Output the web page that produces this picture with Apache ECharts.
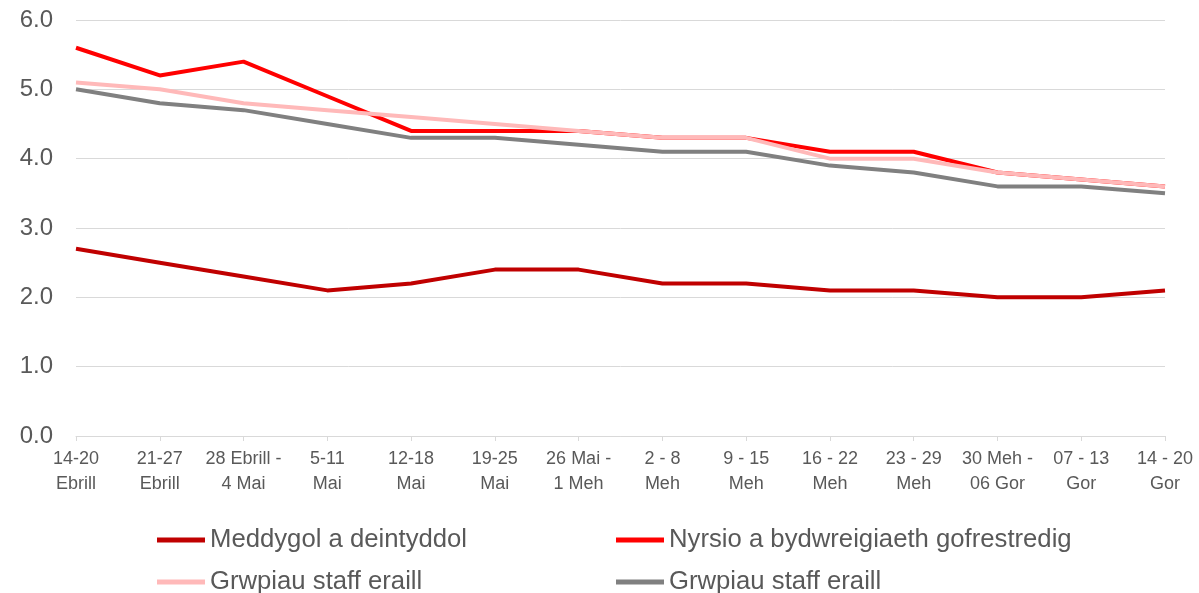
<!DOCTYPE html>
<html>
<head>
<meta charset="utf-8">
<script src="https://cdn.jsdelivr.net/npm/echarts@6/dist/echarts.min.js"></script>
<style>
  html, body { margin: 0; padding: 0; background: #fff; }
  #main { width: 1199px; height: 593px; }
</style>
</head>
<body>
<div id="main"></div>
<script>
// wythnosau
var weeks = ['14-20\nEbrill', '21-27\nEbrill', '28 Ebrill -\n4 Mai', '5-11\nMai', '12-18\nMai', '19-25\nMai',
  '26 Mai -\n1 Meh', '2 - 8\nMeh', '9 - 15\nMeh', '16 - 22\nMeh', '23 - 29\nMeh', '30 Meh -\n06 Gor',
  '07 - 13\nGor', '14 - 20\nGor'];

var meddygol = [2.7, 2.5, 2.3, 2.1, 2.2, 2.4, 2.4, 2.2, 2.2, 2.1, 2.1, 2.0, 2.0, 2.1];
var nyrsio   = [5.6, 5.2, 5.4, 4.9, 4.4, 4.4, 4.4, 4.3, 4.3, 4.1, 4.1, 3.8, 3.7, 3.6];
var eraillPinc = [5.1, 5.0, 4.8, 4.7, 4.6, 4.5, 4.4, 4.3, 4.3, 4.0, 4.0, 3.8, 3.7, 3.6];
var eraillLlwyd = [5.0, 4.8, 4.7, 4.5, 4.3, 4.3, 4.2, 4.1, 4.1, 3.9, 3.8, 3.6, 3.6, 3.5];

var yTicks = [0, 6, 1]; // min, max, interval

var names = ['Meddygol a deintyddol', 'Nyrsio a bydwreigiaeth gofrestredig',
  'Grwpiau staff eraill', 'Grwpiau staff eraill ']; // trailing space keeps them apart

var txt = '#595959';
var font = '"Liberation Sans", Arial, sans-serif';

function mkLegend(name, left, top) {
  return {
    data: [name],
    left: left, top: top, padding: 0,
    icon: 'rect', itemWidth: 48, itemHeight: 5,
    textStyle: { color: txt, fontSize: 25.7, fontFamily: font }
  };
}

function mkLine(name, data, color) {
  return {
    name: name, type: 'line', data: data,
    symbol: 'none', lineStyle: { width: 4, color: color }, itemStyle: { color: color }
  };
}

var myChart = echarts.init(document.getElementById('main'));
var option = {
  animation: false,
  backgroundColor: '#fff',
  grid: { left: 76, right: 34, top: 20, bottom: 157 },
  legend: [
    mkLegend(names[0], 157, 527),
    mkLegend(names[1], 616, 527),
    mkLegend(names[2], 157, 569),
    mkLegend(names[3], 616, 569)
  ],
  xAxis: {
    type: 'category',
    boundaryGap: false,
    data: weeks,
    axisLine: { lineStyle: { color: '#d9d9d9', width: 1 } },
    axisTick: { show: true, alignWithLabel: true, length: 5, lineStyle: { color: '#d9d9d9' } },
    axisLabel: { color: txt, fontSize: 18, fontFamily: font, lineHeight: 25, margin: 11, interval: 0 }
  },
  yAxis: {
    type: 'value',
    min: yTicks[0], max: yTicks[1], interval: yTicks[2],
    axisLine: { show: false },
    axisTick: { show: false },
    splitLine: { lineStyle: { color: '#d9d9d9', width: 1 } },
    axisLabel: {
      color: txt, fontSize: 24, fontFamily: font, margin: 23,
      formatter: function (v) { return v.toFixed(1); }
    }
  },
  series: [
    mkLine(names[0], meddygol, '#C00000'),
    mkLine(names[1], nyrsio, '#FF0000'),
    mkLine(names[2], eraillPinc, '#FFB9B9'),
    mkLine(names[3], eraillLlwyd, '#808080')
  ]
};
myChart.setOption(option);
</script>
</body>
</html>
